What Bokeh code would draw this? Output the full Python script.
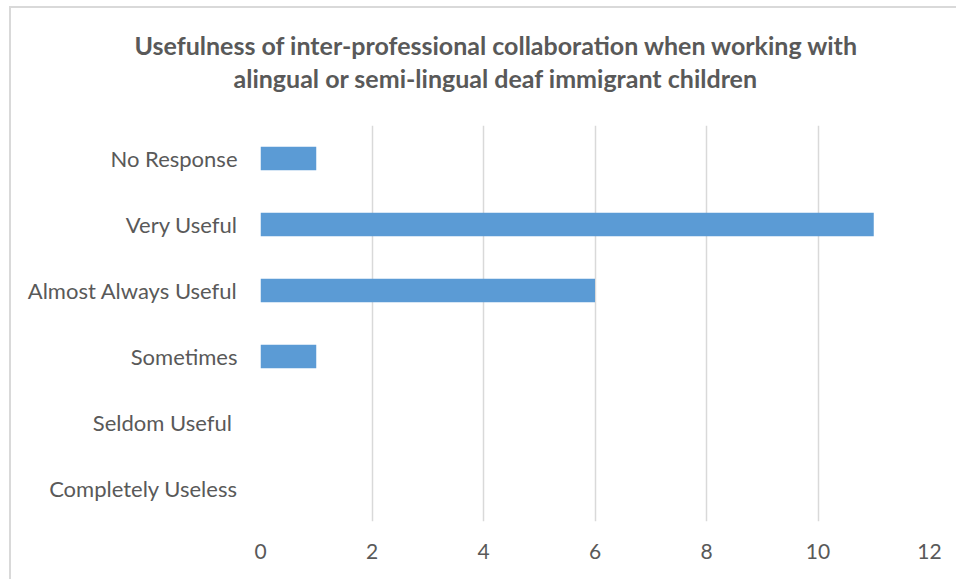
from bokeh.plotting import figure
from bokeh.models import FactorRange, Range1d, FixedTicker, ColumnDataSource, Title
from bokeh.embed import file_html
from bokeh.resources import INLINE

title_lines = ["Usefulness of inter-professional collaboration when working with",
               "alingual or semi-lingual deaf immigrant children"]
categories = ["Completely Useless", "Seldom Useful ", "Sometimes",
              "Almost Always Useful", "Very Useful", "No Response"]
counts = [0, 0, 1, 6, 11, 1]
x_ticks = [0, 2, 4, 6, 8, 10, 12]

TXT = "#595959"
GRID = "#d9d9d9"
BAR = "#5B9BD5"
FONT = "Lato"

src = ColumnDataSource(dict(cat=categories, val=counts))

p = figure(width=947, height=573, output_backend="svg", toolbar_location=None,
           y_range=FactorRange(factors=categories, range_padding=0),
           x_range=Range1d(0, 12),
           min_border_left=249, min_border_right=29,
           min_border_top=117, min_border_bottom=60,
           margin=(6, 0, 0, 9))
p.styles = {"border-left": "2px solid #d9d9d9", "border-top": "2px solid #d9d9d9"}

p.hbar(y="cat", right="val", left=0, height=0.355, source=src,
       fill_color=BAR, line_color=None)

# spacer between the title and the plot area
p.add_layout(Title(text=" ", text_font_size="1px", standoff=29), "above")

# second title line
t2 = Title(text=title_lines[1], align="left", offset=-27, standoff=2,
           text_font=FONT, text_font_style="bold", text_font_size="25px",
           text_color=TXT)
p.add_layout(t2, "above")

# first title line (outermost)
p.title.text = title_lines[0]
p.title.align = "left"
p.title.offset = -126
p.title.standoff = 0
p.title.text_font = FONT
p.title.text_font_style = "bold"
p.title.text_font_size = "25px"
p.title.text_color = TXT

p.outline_line_color = None
p.background_fill_color = "white"
p.border_fill_color = "white"

p.xgrid.grid_line_color = GRID
p.xgrid.grid_line_width = 1.5
p.xgrid.ticker = FixedTicker(ticks=x_ticks)
p.ygrid.grid_line_color = None

xa = p.xaxis[0]
xa.ticker = FixedTicker(ticks=x_ticks)
xa.axis_line_color = None
xa.major_tick_line_color = None
xa.minor_tick_line_color = None
xa.major_tick_out = 0
xa.major_label_standoff = 22
xa.major_label_text_font = FONT
xa.major_label_text_font_size = "21px"
xa.major_label_text_color = TXT

ya = p.yaxis[0]
ya.axis_line_color = None
ya.major_tick_line_color = None
ya.major_tick_out = 0
ya.major_label_standoff = 23
ya.major_label_text_font = FONT
ya.major_label_text_font_size = "22px"
ya.major_label_text_color = TXT

open("out.html", "w").write(file_html(p, INLINE))
